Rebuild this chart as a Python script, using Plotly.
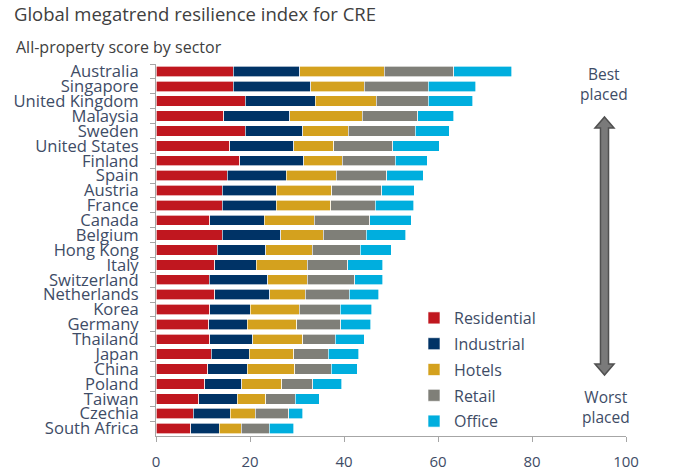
import plotly.graph_objects as go

countries = ["Australia", "Singapore", "United Kingdom", "Malaysia", "Sweden",
             "United States", "Finland", "Spain", "Austria", "France", "Canada",
             "Belgium", "Hong Kong", "Italy", "Switzerland", "Netherlands", "Korea",
             "Germany", "Thailand", "Japan", "China", "Poland", "Taiwan", "Czechia",
             "South Africa"]

residential = [16.4, 16.4, 19.0, 14.4, 19.0, 15.7, 17.8, 15.2, 14.1, 14.1, 11.4, 14.1, 13.0,
               12.5, 11.3, 12.5, 11.4, 11.2, 11.4, 11.8, 11.0, 10.4, 9.1, 7.9, 7.4]
industrial = [14.2, 16.5, 14.9, 14.1, 12.2, 13.6, 13.6, 12.5, 11.5, 11.5, 11.6, 12.4, 10.3,
              8.8, 12.5, 11.7, 8.7, 8.2, 9.2, 8.0, 8.4, 7.8, 8.2, 7.9, 6.1]
hotels = [18.0, 11.4, 13.0, 15.4, 9.7, 8.5, 8.2, 10.6, 11.8, 11.6, 10.7, 9.1, 9.9,
          10.9, 8.4, 7.6, 10.4, 10.5, 10.6, 9.5, 10.1, 8.6, 6.0, 5.3, 4.6]
retail = [14.8, 13.6, 11.0, 11.8, 14.3, 12.6, 11.3, 10.8, 10.6, 9.5, 11.8, 9.1, 10.3,
          8.6, 10.1, 9.3, 8.7, 9.4, 6.9, 7.3, 7.8, 6.5, 6.3, 7.1, 6.0]
office = [12.3, 10.1, 9.5, 7.6, 7.2, 9.9, 6.8, 7.8, 6.9, 8.1, 8.8, 8.4, 6.5,
          7.4, 5.9, 6.3, 6.7, 6.4, 6.2, 6.5, 5.5, 6.2, 5.1, 3.0, 5.2]

series = [("Residential", residential, "#C0171F"),
          ("Industrial", industrial, "#003366"),
          ("Hotels", hotels, "#D4A11E"),
          ("Retail", retail, "#7F7F78"),
          ("Office", office, "#00AEDE")]

x_ticks = [0, 20, 40, 60, 80, 100]

W, H = 683, 476
ML, MR, MT, MB = 156, 57, 64, 40
FONT = "Open Sans"
LABEL_COL = "#3E4C66"
TITLE_COL = "#404040"

fig = go.Figure()
for name, vals, col in series:
    fig.add_trace(go.Bar(
        y=countries, x=vals, name=name, orientation="h", legendgroup=name,
        marker=dict(color=col, line=dict(color="rgba(255,255,255,0.8)", width=0.8)),
    ))

def px2paper(px, py):
    pw = W - ML - MR
    ph = H - MT - MB
    return (px - ML) / pw, (H - MB - py) / ph

# double-headed arrow (decoration)
cx = 604.5
pts = [(cx, 117), (cx + 9.5, 128), (cx + 4, 128), (cx + 4, 364), (cx + 9.5, 364),
       (cx, 375), (cx - 9.5, 364), (cx - 4, 364), (cx - 4, 128), (cx - 9.5, 128)]
path = "M " + " L ".join(f"{a:.4f},{b:.4f}" for a, b in (px2paper(*p) for p in pts)) + " Z"

fig.update_layout(
    width=W, height=H,
    margin=dict(l=ML, r=MR, t=MT, b=MB, autoexpand=False),
    paper_bgcolor="white", plot_bgcolor="white",
    barmode="stack", bargap=0.3,
    font=dict(family=FONT, color=LABEL_COL, size=14),
    title=dict(text="Global megatrend resilience index for CRE",
               x=14 / W, xanchor="left", xref="container",
               y=1 - 8 / H, yanchor="top", yref="container",
               pad=dict(l=0, r=0, t=0, b=0),
               font=dict(family=FONT, size=18.5, color=TITLE_COL)),
    xaxis=dict(range=[0, 100], tickvals=x_ticks, ticktext=[str(v) for v in x_ticks],
               showgrid=False, zeroline=False, showline=True, linecolor="#A6A6A6",
               linewidth=1, ticks="outside", ticklen=5, tickcolor="#A6A6A6",
               tickfont=dict(size=15, color=LABEL_COL), ticklabelstandoff=7,
               automargin=False),
    yaxis=dict(categoryorder="array", categoryarray=countries, autorange="reversed",
               tickmode="linear", dtick=1,
               showgrid=False, zeroline=False, showline=True, linecolor="#A6A6A6",
               linewidth=1, ticks="outside", ticklen=5, tickcolor="#A6A6A6",
               tickson="boundaries", tickfont=dict(size=16.6, color=LABEL_COL),
               ticklabelstandoff=13, automargin=False),
    legend=dict(x=px2paper(414, 0)[0], xanchor="left", y=px2paper(0, 301)[1], yanchor="top",
                traceorder="grouped", tracegroupgap=2, font=dict(size=16, color=LABEL_COL),
                bgcolor="rgba(0,0,0,0)", itemclick=False),
    shapes=[dict(type="path", xref="paper", yref="paper", path=path,
                 fillcolor="#7A7A7A", line=dict(color="#505050", width=1.5))],
    annotations=[
        dict(text="All-property score by sector", xref="paper", yref="paper",
             x=px2paper(14, 0)[0], y=px2paper(0, 34)[1], xanchor="left", yanchor="top",
             showarrow=False, font=dict(size=16, color=TITLE_COL)),
        dict(text="Best<br>placed", xref="paper", yref="paper",
             x=px2paper(604, 0)[0], y=px2paper(0, 84)[1], xanchor="center", yanchor="middle",
             showarrow=False, font=dict(size=15.5, color=LABEL_COL)),
        dict(text="Worst<br>placed", xref="paper", yref="paper",
             x=px2paper(606, 0)[0], y=px2paper(0, 407)[1], xanchor="center", yanchor="middle",
             showarrow=False, font=dict(size=15.5, color=LABEL_COL)),
    ],
)

fig.write_html("out.html", config={"displayModeBar": False},
               post_script="document.body.style.margin='0';document.body.style.padding='0';")
